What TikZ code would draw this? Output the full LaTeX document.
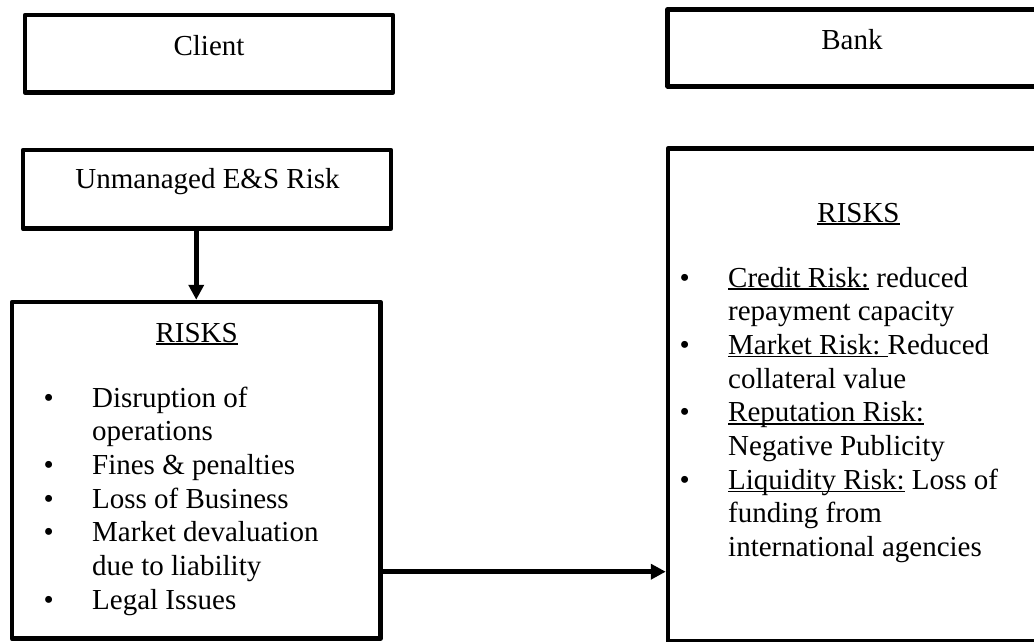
\documentclass[tikz,border=0pt]{standalone}
\usepackage{fontspec}
\setmainfont{Liberation Serif}
\usetikzlibrary{arrows.meta}
\newcommand{\myul}[1]{\setbox0=\hbox{#1}\rlap{\rule[-2.8pt]{\wd0}{1.4pt}}\box0\relax}
\newcommand{\bitem}{\makebox[48.5pt][l]{\textbullet}}
\newcommand{\bcont}{\hspace*{48.5pt}}
\begin{document}
\begin{tikzpicture}[x=1pt,y=-1pt,
  box/.style={draw, line width=4.5pt, line join=round, inner sep=0pt, rectangle},
  lbl/.style={inner sep=0pt, font=\fontsize{29}{33.7}\selectfont},
  arr/.style={line width=4.5pt, -{Triangle[length=15pt,width=15pt]}}]
\useasboundingbox (0,0) rectangle (1034,641);
\clip (0,0) rectangle (1034,641);
% boxes
\node[box, minimum width=368pt, minimum height=77.5pt] (client) at (209,53.75) {};
\node[box, minimum width=368pt, minimum height=78.7pt] (unm) at (207,189.35) {};
\node[box, minimum width=368.5pt, minimum height=336.7pt] (risksL) at (196.25,470.35) {};
\node[box, minimum width=372.3pt, minimum height=77pt] (bank) at (853.85,47.8) {};
\node[box, minimum width=372pt, minimum height=492.8pt] (risksR) at (854,395.1) {};
% texts
\node[lbl, anchor=base] (tclient) at (209,55) {Client};
\node[lbl, anchor=base] (tunm) at (207.5,188) {Unmanaged E\&S Risk};
\node[lbl, anchor=base] (tbank) at (852,49) {Bank};
\node[lbl, anchor=base] (trL) at (196.7,342) {\myul{RISKS}};
\node[lbl, anchor=base] (trR) at (858.5,222) {\myul{RISKS}};
\node[lbl, anchor=base west] (listL) at (43.5,407) {\begin{tabular}[t]{@{}l@{}}
\bitem Disruption of\\
\bcont operations\\
\bitem Fines \& penalties\\
\bitem Loss of Business\\
\bitem Market devaluation\\
\bcont due to liability\\
\bitem Legal Issues
\end{tabular}};
\node[lbl, anchor=base west] (listR) at (679.5,287) {\begin{tabular}[t]{@{}l@{}}
\bitem \myul{Credit Risk:} reduced\\
\bcont repayment capacity\\
\bitem \myul{Market Risk:\ }Reduced\\
\bcont collateral value\\
\bitem \myul{Reputation Risk:}\\
\bcont Negative Publicity\\
\bitem \myul{Liquidity Risk:} Loss of\\
\bcont funding from\\
\bcont international agencies
\end{tabular}};
% connectors
\coordinate (hy) at (0,571.7);
\draw[arr] (unm.south -| risksL.north) -- (risksL.north);
\draw[arr] (risksL.east |- hy) -- (risksR.west |- hy);
\end{tikzpicture}
\end{document}
